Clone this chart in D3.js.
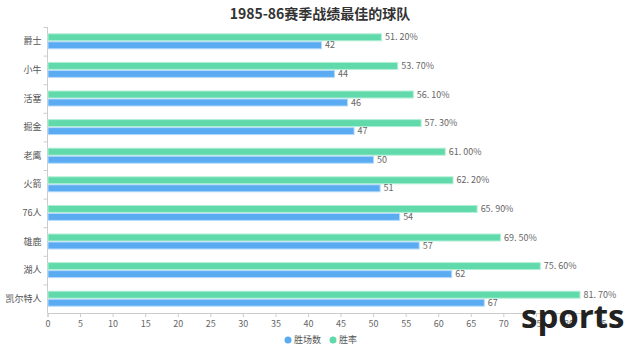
<!DOCTYPE html>
<html>
<head>
<meta charset="utf-8">
<script src="https://cdn.jsdelivr.net/npm/d3@7"></script>
<style>
  body { margin: 0; background: #fff; }
  text { font-family: "Noto Sans CJK SC", "Noto Sans", sans-serif; }
</style>
</head>
<body>
<div id="chart"></div>
<script>
// 1985-86 best records
const teams = ['爵士', '小牛', '活塞', '掘金', '老鹰', '火箭', '76人', '雄鹿', '湖人', '凯尔特人'];
const wins = [42, 44, 46, 47, 50, 51, 54, 57, 62, 67];
const winRate = [51.2, 53.7, 56.1, 57.3, 61.0, 62.2, 65.9, 69.5, 75.6, 81.7];
const xTicks = d3.range(0, 90, 5);

const width = 640;
const height = 350;
const margin = { top: 27, right: 39, bottom: 37, left: 47.5 };
const innerWidth = width - margin.left - margin.right;
const innerHeight = height - margin.top - margin.bottom;

const blue = '#5aabf2';
const green = '#60daab';

const svg = d3.select('#chart')
  .append('svg')
  .attr('width', width)
  .attr('height', height);

svg.append('text')
  .attr('x', 320)
  .attr('y', 19)
  .attr('text-anchor', 'middle')
  .style('font-size', '14px')
  .style('font-weight', 'bold')
  .style('fill', '#333')
  .text('1985-86赛季战绩最佳的球队');

const g = svg.append('g')
  .attr('transform', `translate(${margin.left},${margin.top})`);

const x = d3.scaleLinear().domain([0, 85]).range([0, innerWidth]);
const y = d3.scaleBand().domain(teams).range([0, innerHeight]);

const barH = 7;

// x axis
const xAxis = g.append('g')
  .attr('transform', `translate(0,${innerHeight})`)
  .call(d3.axisBottom(x).tickValues(xTicks).tickSize(4).tickPadding(4));
xAxis.select('.domain').attr('stroke', '#ccc');
xAxis.selectAll('.tick line').attr('stroke', '#ccc');
xAxis.selectAll('.tick text')
  .style('font-size', '9px')
  .style('fill', '#666');

// y axis with ticks on band edges
g.append('line')
  .attr('x1', 0).attr('x2', 0)
  .attr('y1', 0).attr('y2', innerHeight)
  .attr('stroke', '#ccc');
g.selectAll('.ytick')
  .data(teams)
  .enter()
  .append('line')
  .attr('x1', -4).attr('x2', 0)
  .attr('y1', d => y(d) + 0.5)
  .attr('y2', d => y(d) + 0.5)
  .attr('stroke', '#ccc');
g.selectAll('.ylabel')
  .data(teams)
  .enter()
  .append('text')
  .attr('x', -6)
  .attr('y', d => y(d) + y.bandwidth() / 2)
  .attr('dy', '0.35em')
  .attr('text-anchor', 'end')
  .style('font-size', '9px')
  .style('fill', '#555')
  .text(d => d);

// 胜率 bars (top)
g.selectAll('.rate-bar')
  .data(teams)
  .enter()
  .append('rect')
  .attr('x', 0.5)
  .attr('y', d => y(d) + y.bandwidth() / 2 - barH - 0.5)
  .attr('width', (d, i) => x(winRate[i]))
  .attr('height', barH)
  .attr('fill', green)
  .attr('stroke', '#b4eed6')
  .attr('stroke-width', 1);

g.selectAll('.rate-label')
  .data(teams)
  .enter()
  .append('text')
  .attr('x', (d, i) => x(winRate[i]) + 4)
  .attr('y', d => y(d) + y.bandwidth() / 2 - barH / 2 - 0.5)
  .attr('dy', '0.35em')
  .style('font-size', '9px')
  .style('fill', '#666')
  .text((d, i) => winRate[i].toFixed(2).replace('.', '. ') + '%');

// 胜场数 bars (bottom)
g.selectAll('.win-bar')
  .data(teams)
  .enter()
  .append('rect')
  .attr('x', 0.5)
  .attr('y', d => y(d) + y.bandwidth() / 2 + 0.5)
  .attr('width', (d, i) => x(wins[i]))
  .attr('height', barH)
  .attr('fill', blue)
  .attr('stroke', '#b6dafa')
  .attr('stroke-width', 1);

g.selectAll('.win-label')
  .data(teams)
  .enter()
  .append('text')
  .attr('x', (d, i) => x(wins[i]) + 4)
  .attr('y', d => y(d) + y.bandwidth() / 2 + barH / 2 + 0.5)
  .attr('dy', '0.35em')
  .style('font-size', '9px')
  .style('fill', '#666')
  .text((d, i) => wins[i]);

// legend
const legend = [
  { name: '胜场数', color: blue, x: 288 },
  { name: '胜率', color: green, x: 333 }
];
const lg = svg.selectAll('.legend')
  .data(legend)
  .enter()
  .append('g')
  .attr('transform', d => `translate(${d.x},340)`);
lg.append('circle').attr('r', 3.5).attr('fill', d => d.color);
lg.append('text')
  .attr('x', 6)
  .attr('dy', '0.35em')
  .style('font-size', '9px')
  .style('fill', '#555')
  .text(d => d.name);

// watermark
svg.append('text')
  .attr('x', 521)
  .attr('y', 328)
  .style('font-family', '"Open Sans", sans-serif')
  .style('font-size', '33px')
  .style('font-weight', 'bold')
  .style('fill', '#222')
  .text('sports');
</script>
</body>
</html>
